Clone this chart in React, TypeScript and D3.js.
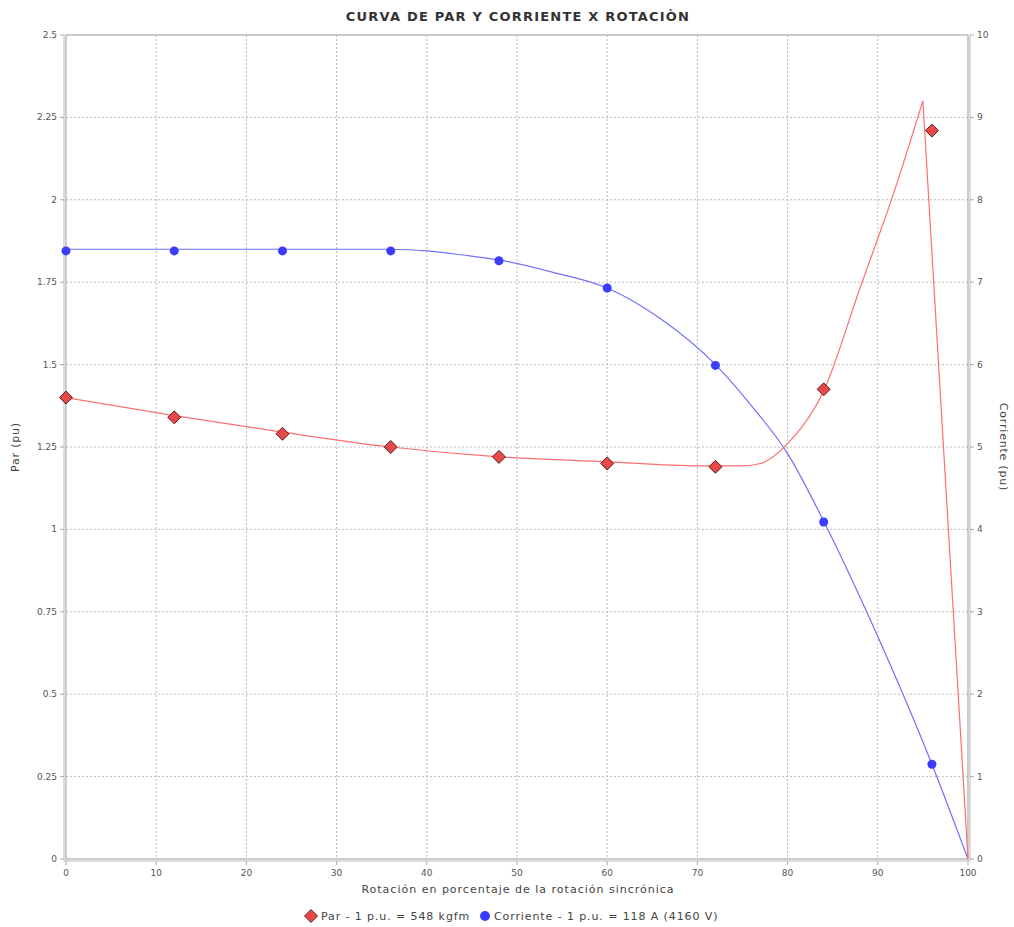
import React from "react";
import * as d3 from "d3";

const xTicks = [0, 10, 20, 30, 40, 50, 60, 70, 80, 90, 100];
const leftTicks = [0, 0.25, 0.5, 0.75, 1, 1.25, 1.5, 1.75, 2, 2.25, 2.5];
const rightTicks = [0, 1, 2, 3, 4, 5, 6, 7, 8, 9, 10];

// measured points (markers)
const markerX = [0, 12, 24, 36, 48, 60, 72, 84, 96];
const parPoints = [1.40, 1.34, 1.29, 1.25, 1.22, 1.20, 1.19, 1.425, 2.21];
const corrientePoints = [7.38, 7.38, 7.38, 7.38, 7.26, 6.93, 5.99, 4.09, 1.15];

// fitted curves
const parCurveX = [0, 12, 24, 36, 48, 60, 70, 75, 77, 80, 84, 88, 92, 95];
const parCurveY = [1.40, 1.345, 1.295, 1.25, 1.22, 1.205, 1.193, 1.193, 1.2, 1.26, 1.42, 1.73, 2.04, 2.30];
const parTailX = [95, 100];
const parTailY = [2.30, 0];
const corrCurveX = [0, 36, 40, 44, 48, 54, 60, 66, 72, 76, 80, 84, 90, 96, 100];
const corrCurveY = [7.40, 7.40, 7.38, 7.33, 7.27, 7.12, 6.93, 6.55, 6.0, 5.5, 4.92, 4.1, 2.7, 1.15, 0];

const W = 1014, H = 927;
const L = 66, R = 968, T = 35, B = 859;
const FONT = "DejaVu Sans, sans-serif";
const TXT = "#555";

export default function App() {
  const x = d3.scaleLinear().domain([0, 100]).range([L, R]);
  const yL = d3.scaleLinear().domain([0, 2.5]).range([B, T]);
  const yR = d3.scaleLinear().domain([0, 10]).range([B, T]);

  const parLine = d3.line<number>().x((_, i) => x(parCurveX[i])).y((d) => yL(d)).curve(d3.curveMonotoneX);
  const parTail = d3.line<number>().x((_, i) => x(parTailX[i])).y((d) => yL(d));
  const corrLine = d3.line<number>().x((_, i) => x(corrCurveX[i])).y((d) => yR(d)).curve(d3.curveMonotoneX);

  const diamond = (cx: number, cy: number, r: number) =>
    `M${cx},${cy - r}L${cx + r},${cy}L${cx},${cy + r}L${cx - r},${cy}Z`;

  return (
    <svg width={W} height={H} style={{ position: "absolute", left: 0, top: 0, background: "#fff" }} fontFamily={FONT}>
      <rect x={0} y={0} width={W} height={H} fill="#fff" />
      <text x={518} y={21} textAnchor="middle" fontSize={13} fontWeight="bold" letterSpacing={1.2} fill="#333">
        CURVA DE PAR Y CORRIENTE X ROTACIÒN
      </text>
      {/* gridlines */}
      {xTicks.slice(1, -1).map((t) => (
        <line key={"gx" + t} x1={x(t)} x2={x(t)} y1={T} y2={B} stroke="#bbb" strokeWidth={1} strokeDasharray="2,2" />
      ))}
      {leftTicks.slice(1, -1).map((t) => (
        <line key={"gy" + t} x1={L} x2={R} y1={yL(t)} y2={yL(t)} stroke="#bbb" strokeWidth={1} strokeDasharray="2,2" />
      ))}
      {/* plot outline */}
      <rect x={L} y={T} width={R - L} height={B - T} fill="none" stroke="#999" strokeWidth={1} />
      {/* axis lines (offset) */}
      <line x1={L - 2} x2={L - 2} y1={T} y2={B + 2} stroke="#bbb" strokeWidth={1} />
      <line x1={R + 2} x2={R + 2} y1={T} y2={B + 2} stroke="#bbb" strokeWidth={1} />
      <line x1={L - 2} x2={R + 2} y1={B + 2} y2={B + 2} stroke="#bbb" strokeWidth={1} />
      {/* ticks */}
      {leftTicks.map((t) => (
        <g key={"lt" + t}>
          <line x1={L - 6} x2={L - 2} y1={yL(t)} y2={yL(t)} stroke="#aaa" />
          <text x={L - 9} y={yL(t) + 3} textAnchor="end" fontSize={9} fill={TXT}>{String(t)}</text>
        </g>
      ))}
      {rightTicks.map((t) => (
        <g key={"rt" + t}>
          <line x1={R + 2} x2={R + 6} y1={yR(t)} y2={yR(t)} stroke="#aaa" />
          <text x={R + 9} y={yR(t) + 3} textAnchor="start" fontSize={9} fill={TXT}>{String(t)}</text>
        </g>
      ))}
      {xTicks.map((t) => (
        <g key={"xt" + t}>
          <line x1={x(t)} x2={x(t)} y1={B + 2} y2={B + 6} stroke="#aaa" />
          <text x={x(t)} y={B + 17} textAnchor="middle" fontSize={9} fill={TXT}>{String(t)}</text>
        </g>
      ))}
      {/* axis labels */}
      <text transform={`translate(19,${(T + B) / 2}) rotate(-90)`} textAnchor="middle" fontSize={11} letterSpacing={0.8} fill="#444">Par (pu)</text>
      <text transform={`translate(1000,${(T + B) / 2}) rotate(90)`} textAnchor="middle" fontSize={11} letterSpacing={0.8} fill="#444">Corriente (pu)</text>
      <text x={518} y={893} textAnchor="middle" fontSize={11} letterSpacing={1} fill="#444">Rotación en porcentaje de la rotación sincrónica</text>
      {/* curves */}
      <path d={corrLine(corrCurveY) || ""} fill="none" stroke="#7070ff" strokeWidth={1.2} />
      <path d={parLine(parCurveY) || ""} fill="none" stroke="#ff6e6e" strokeWidth={1.2} />
      <path d={parTail(parTailY) || ""} fill="none" stroke="#ff6e6e" strokeWidth={1.2} />
      {/* markers */}
      {corrientePoints.map((v, i) => (
        <circle key={"cp" + i} cx={x(markerX[i])} cy={yR(v)} r={4.5} fill="#3c3cff" />
      ))}
      {parPoints.map((v, i) => (
        <path key={"pp" + i} d={diamond(x(markerX[i]), yL(v), 6.5)} fill="#e84848" stroke="#5a2020" strokeWidth={1} />
      ))}
      {/* legend */}
      <path d={diamond(311, 916, 6.5)} fill="#e84848" stroke="#5a2020" strokeWidth={1} />
      <text x={321} y={920} fontSize={11} letterSpacing={0.9} fill="#444">Par - 1 p.u. = 548 kgfm</text>
      <circle cx={485} cy={916} r={5} fill="#3c3cff" />
      <text x={494} y={920} fontSize={11} letterSpacing={0.9} fill="#444">Corriente - 1 p.u. = 118 A (4160 V)</text>
    </svg>
  );
}
